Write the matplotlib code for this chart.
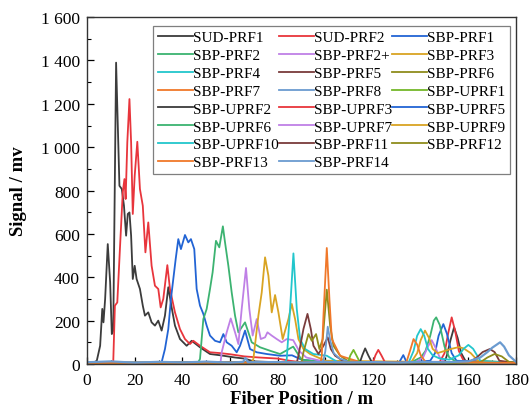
import numpy as np
import matplotlib.pyplot as plt
from matplotlib.ticker import MultipleLocator, FuncFormatter

plt.rcParams['font.family'] = ['Liberation Serif', 'DejaVu Serif']
plt.rcParams['mathtext.fontset'] = 'stix'

################################################################################
### data (fiber position in m, signal in mV)
sud_prf1_x = [0, 3, 4.1, 5.5, 6.4, 6.9, 7.6, 8.7, 9.7, 10.4, 11.0, 12.2, 13.6, 14.6, 15.5, 16.4, 17.1,
              17.8, 18.5, 19.2, 20.0, 20.8, 22.2, 23.4, 24.3, 25.7, 27.1, 28.5, 29.9, 31.3, 32.7, 34.1,
              35.5, 36.9, 39.0, 41.8, 43.9, 47.4, 51.6, 56, 62, 66, 70, 80, 180]
sud_prf1_y = [5, 8, 15, 84, 254, 192, 300, 553, 377, 138, 154, 1390, 822, 807, 730, 592, 692,
              699, 592, 392, 453, 392, 346, 269, 223, 238, 192, 177, 200, 154, 223, 354,
              261, 177, 115, 84, 107, 77, 46, 40, 30, 25, 12, 8, 5]

sud_prf2_x = [0, 10.5, 11.0, 11.7, 12.7, 13.8, 15.0, 15.7, 16.2, 16.9, 17.8, 18.5, 19.2, 20.0, 21.1,
              22.2, 23.4, 24.5, 25.7, 27.1, 28.5, 29.9, 30.9, 32.0, 33.7, 34.8, 36.9, 39.0, 41.1,
              43.2, 44.6, 47.4, 51.6, 56, 60, 66, 72, 80, 85, 90, 180]
sud_prf2_y = [5, 5, 8, 269, 284, 530, 792, 853, 761, 1022, 1222, 1022, 692, 868, 1025,
              807, 730, 515, 653, 453, 361, 346, 261, 300, 456, 346, 238, 161, 115,
              92, 107, 84, 54, 50, 45, 35, 30, 25, 15, 8, 5]

sbp_prf1_x = [0, 30, 31.3, 32.7, 34.1, 35.2, 36.2, 37.2, 38.3, 39.4, 41.1, 42.5, 43.6, 45.0, 46.0,
              47.4, 48.8, 50.2, 51.6, 53.7, 55.8, 57.2, 58.6, 60.7, 62.8, 64.2, 66.3, 68.4, 71.2,
              75.4, 81.0, 86, 90, 100, 180]
sbp_prf1_y = [5, 5, 8, 69, 161, 300, 392, 484, 576, 530, 595, 561, 576, 530, 346,
              269, 231, 177, 131, 107, 100, 138, 100, 84, 54, 84, 154, 69, 54,
              46, 38, 40, 20, 8, 5]

sbp_prf2_x = [0, 46.5, 47.4, 48.8, 50.2, 51.6, 52.7, 54.1, 55.5, 57.0, 57.9, 59.3, 60.7, 62.1, 63.5,
              64.9, 66.3, 67.7, 69.1, 72.6, 76.8, 81.0, 86.5, 90, 100, 180]
sbp_prf2_y = [5, 5, 23, 207, 254, 346, 423, 568, 538, 635, 561, 453, 330, 223, 146,
              169, 192, 146, 100, 77, 61, 46, 80, 20, 8, 5]

sbp_prf2p_x = [0, 56, 56.5, 58.6, 60.3, 62.1, 63.5, 64.9, 66.7, 68.1, 69.5, 71.2, 72.9, 74.7, 75.7,
               77.5, 79.6, 81.7, 83.8, 86.5, 89, 92, 100, 180]
sbp_prf2p_y = [5, 5, 54, 146, 210, 146, 92, 254, 443, 254, 131, 207, 115, 123, 146,
               131, 115, 100, 115, 110, 60, 30, 10, 5]

sbp_prf3_x = [0, 69, 69.8, 71.9, 73.3, 74.7, 76.1, 77.5, 78.9, 80.3, 82.1, 84.5, 85.9, 87.3, 88.7,
              90.8, 93.6, 100, 180]
sbp_prf3_y = [5, 5, 23, 223, 330, 492, 407, 238, 318, 238, 115, 207, 277, 207, 115,
              69, 46, 15, 5]

sbp_prf4_x = [0, 83, 83.8, 85.2, 86.6, 88.0, 89.4, 91.5, 95.0, 100.6, 105, 180]
sbp_prf4_y = [5, 5, 23, 254, 510, 254, 115, 69, 46, 38, 10, 5]

sbp_prf5_x = [0, 88, 88.7, 90.8, 92.5, 93.9, 95.0, 97.1, 99.2, 101.0, 102.3, 104.1, 108, 180]
sbp_prf5_y = [5, 5, 38, 161, 231, 161, 84, 46, 84, 123, 69, 38, 10, 5]

sbp_prf6_x = [0, 90, 90.8, 92.9, 94.3, 96.1, 97.5, 98.9, 100.6, 102.0, 103.4, 106.2, 110, 180]
sbp_prf6_y = [5, 5, 54, 138, 107, 138, 69, 115, 343, 177, 84, 38, 10, 5]

sbp_prf7_x = [0, 98, 98.5, 99.2, 100.6, 101.7, 102.7, 104.1, 106.2, 110.4, 115, 180]
sbp_prf7_y = [5, 5, 38, 223, 535, 300, 115, 84, 38, 23, 8, 5]

sbp_prf8_x = [0, 99, 100, 101.0, 102, 103.5, 106, 110, 180]
sbp_prf8_y = [5, 5, 60, 172, 110, 50, 25, 10, 5]

sbp_uprf1_x = [0, 109.5, 110.5, 111.8, 113, 114.5, 180]
sbp_uprf1_y = [5, 8, 40, 65, 40, 8, 5]

sbp_uprf2_x = [0, 114.5, 115.5, 116.7, 118, 119.5, 150, 151, 152.5, 154.0, 155.5, 157, 159, 180]
sbp_uprf2_y = [5, 8, 40, 72, 40, 8, 8, 40, 110, 169, 120, 50, 10, 5]

sbp_uprf3_x = [0, 120, 121, 122.2, 123.5, 125, 148, 150, 151.5, 153.0, 154.5, 156, 158, 180]
sbp_uprf3_y = [5, 8, 40, 65, 40, 8, 10, 50, 140, 215, 150, 60, 15, 5]

sbp_uprf5_x = [0, 131, 132.7, 134, 135, 144, 146, 147.5, 149.5, 151, 153, 155, 180]
sbp_uprf5_y = [5, 8, 41, 10, 8, 15, 50, 130, 184, 140, 50, 15, 5]

sbp_uprf6_x = [0, 136, 140, 142, 144, 145.5, 146.5, 148, 150, 152, 155, 180]
sbp_uprf6_y = [5, 8, 30, 60, 130, 200, 215, 180, 80, 30, 10, 5]

sbp_uprf7_x = [0, 138, 141, 143, 144.6, 146, 148, 150, 180]
sbp_uprf7_y = [5, 8, 30, 80, 110, 80, 30, 10, 5]

sbp_uprf9_x = [0, 136, 138.5, 140, 141.8, 143.5, 145, 147, 150, 153, 156, 158, 161, 164, 180]
sbp_uprf9_y = [5, 8, 50, 110, 154, 120, 70, 50, 60, 70, 78, 72, 50, 15, 5]

sbp_uprf10_x = [0, 135, 137, 138.5, 140.0, 141.5, 143, 145, 148, 152, 156, 158, 160, 162, 165, 180]
sbp_uprf10_y = [5, 8, 60, 130, 161, 130, 70, 40, 25, 20, 40, 70, 88, 70, 15, 5]

sbp_prf11_x = [0, 160, 163, 166, 169, 171, 173, 180]
sbp_prf11_y = [5, 8, 25, 55, 69, 55, 15, 5]

sbp_prf12_x = [0, 165, 168, 171, 174, 177, 180]
sbp_prf12_y = [5, 8, 30, 46, 35, 10, 5]

sbp_prf13_x = [0, 134, 135.5, 137, 138.5, 140, 142, 180]
sbp_prf13_y = [5, 8, 60, 115, 90, 40, 10, 5]

sbp_prf14_x = [0, 10, 20, 30, 40, 50, 60, 65.5, 66.5, 67.5, 80, 90, 100, 110, 120, 130, 140, 150,
               160, 165, 168, 170, 172, 173.3, 175, 177, 180]
sbp_prf14_y = [8, 12, 6, 10, 7, 11, 6, 10, 28, 8, 9, 6, 10, 7, 9, 6, 10, 8,
               12, 30, 55, 75, 90, 100, 80, 40, 10]

labels = ['SUD-PRF1', 'SUD-PRF2', 'SBP-PRF1', 'SBP-PRF2', 'SBP-PRF2+', 'SBP-PRF3', 'SBP-PRF4',
          'SBP-PRF5', 'SBP-PRF6', 'SBP-PRF7', 'SBP-PRF8', 'SBP-UPRF1', 'SBP-UPRF2', 'SBP-UPRF3',
          'SBP-UPRF5', 'SBP-UPRF6', 'SBP-UPRF7', 'SBP-UPRF9', 'SBP-UPRF10', 'SBP-PRF11',
          'SBP-PRF12', 'SBP-PRF13', 'SBP-PRF14']

series = [(sud_prf1_x, sud_prf1_y), (sud_prf2_x, sud_prf2_y), (sbp_prf1_x, sbp_prf1_y),
          (sbp_prf2_x, sbp_prf2_y), (sbp_prf2p_x, sbp_prf2p_y), (sbp_prf3_x, sbp_prf3_y),
          (sbp_prf4_x, sbp_prf4_y), (sbp_prf5_x, sbp_prf5_y), (sbp_prf6_x, sbp_prf6_y),
          (sbp_prf7_x, sbp_prf7_y), (sbp_prf8_x, sbp_prf8_y), (sbp_uprf1_x, sbp_uprf1_y),
          (sbp_uprf2_x, sbp_uprf2_y), (sbp_uprf3_x, sbp_uprf3_y), (sbp_uprf5_x, sbp_uprf5_y),
          (sbp_uprf6_x, sbp_uprf6_y), (sbp_uprf7_x, sbp_uprf7_y), (sbp_uprf9_x, sbp_uprf9_y),
          (sbp_uprf10_x, sbp_uprf10_y), (sbp_prf11_x, sbp_prf11_y), (sbp_prf12_x, sbp_prf12_y),
          (sbp_prf13_x, sbp_prf13_y), (sbp_prf14_x, sbp_prf14_y)]

# origin-like colour cycle
palette = ['#3c3c3c', '#e8353c', '#2264d4', '#3cb371', '#bf80e6', '#d9a423',
           '#22c6cc', '#7a3c3c', '#8f8c1c', '#f0782a', '#6b9bd0', '#74b82a']

################################################################################
### plot
fig = plt.figure(figsize=(5.29, 4.10), dpi=100)
ax = fig.add_axes([0.1645, 0.1098, 0.811, 0.846])

handles = []
for i, (xs, ys) in enumerate(series):
    lw = 1.6 if i == len(series) - 1 else 1.3
    h, = ax.plot(xs, ys, '-', color=palette[i % len(palette)], lw=lw, label=labels[i])
    handles.append(h)

ax.set_xlim(0, 180)
ax.set_ylim(0, 1600)
ax.xaxis.set_major_locator(MultipleLocator(20))
ax.xaxis.set_minor_locator(MultipleLocator(10))
ax.yaxis.set_major_locator(MultipleLocator(200))
ax.yaxis.set_minor_locator(MultipleLocator(100))
ax.yaxis.set_major_formatter(FuncFormatter(lambda v, p: f'{int(v):,}'.replace(',', ' ')))
ax.tick_params(which='both', direction='in', top=False, right=False, labelsize=12.5)
ax.tick_params(which='major', length=5, width=0.9)
ax.tick_params(which='minor', length=3, width=0.8)
ax.tick_params(axis='x', pad=6)
ax.tick_params(axis='y', pad=5)
for s in ax.spines.values():
    s.set_linewidth(1.0)
    s.set_color('#333333')

ax.set_xlabel('Fiber Position / m', fontsize=13.5, fontweight='bold', labelpad=1)
ax.set_ylabel('Signal / mv', fontsize=13.5, fontweight='bold', labelpad=10)

# legend filled row by row, 3 columns
ncol = 3
order = [i for c in range(ncol) for i in range(c, len(handles), ncol)]
leg = ax.legend([handles[i] for i in order], [labels[i] for i in order], ncol=ncol,
                loc='upper right', bbox_to_anchor=(0.986, 0.974), borderaxespad=0,
                fontsize=11.0, handlelength=2.3, handletextpad=0.0, columnspacing=0.0,
                labelspacing=0.27, borderpad=0.3, fancybox=False, framealpha=1)
leg.get_frame().set_edgecolor('#7f7f7f')
leg.get_frame().set_linewidth(0.9)
for lh in leg.get_lines():
    lh.set_linewidth(1.3)

plt.savefig('out.png', dpi=100)
